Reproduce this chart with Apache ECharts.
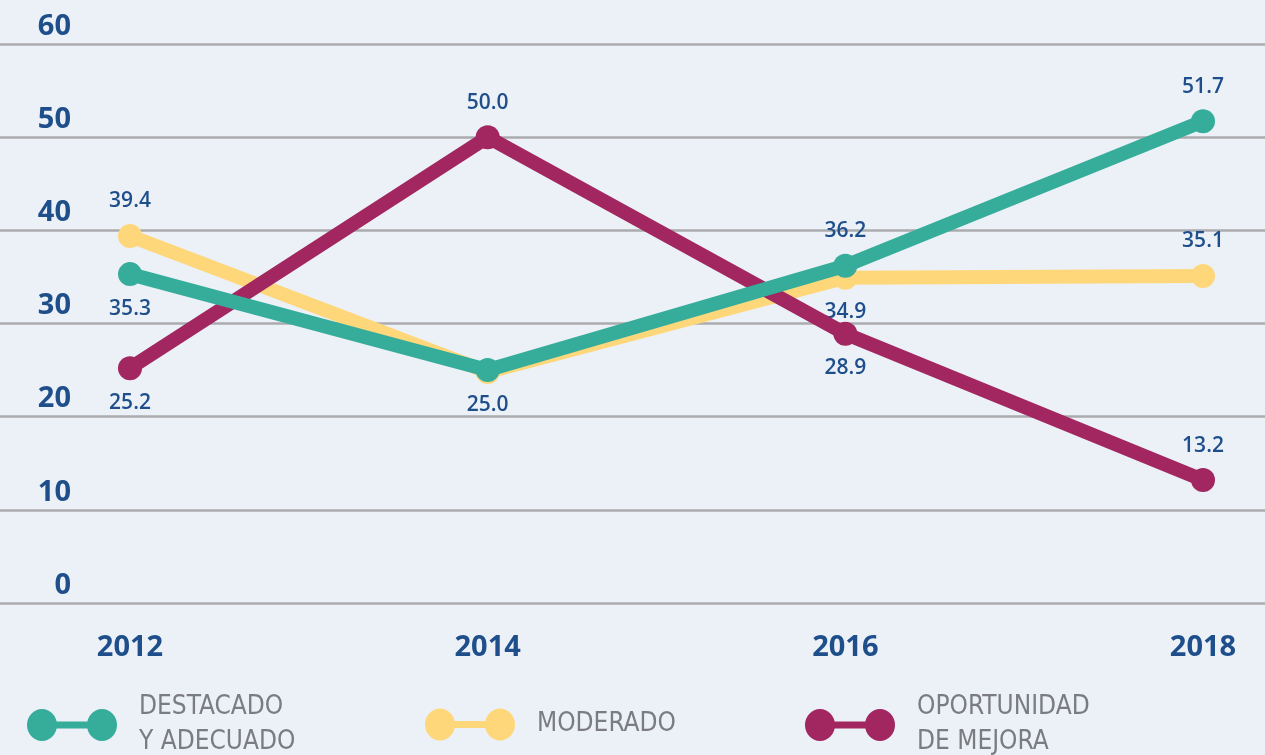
<!DOCTYPE html>
<html>
<head>
<meta charset="utf-8">
<script src="https://cdn.jsdelivr.net/npm/echarts@6/dist/echarts.min.js"></script>
<style>
html,body{margin:0;padding:0;background:#ECF1F8;}
#c{width:1265px;height:755px;}
</style>
</head>
<body>
<div id="c"></div>
<script>
// ---- data ----
var years = ['2012', '2014', '2016', '2018'];
var yTicks = [0, 10, 20, 30, 40, 50, 60];
var destacado = [35.3, 25.0, 36.2, 51.7];
var moderado = [39.4, 24.8, 34.9, 35.1];
var oportunidad = [25.2, 50.0, 28.9, 13.2];
var names = ['DESTACADO\nY ADECUADO', 'MODERADO', 'OPORTUNIDAD\nDE MEJORA'];

// ---- style ----
var colors = ['#35AD9A', '#FFD77B', '#A2265F'];
var labelPos = [
  ['bottom', 'bottom', 'top', 'top'],
  ['top', 'none', 'bottom', 'top'],
  ['bottom', 'top', 'bottom', 'top']
];
var labelBlue = '#1F4F8B';
var numFont = '"Open Sans", "Noto Sans", sans-serif';
var legFont = '"DejaVu Sans Condensed", "DejaVu Sans", sans-serif';

function buildData(vals, pos) {
  return vals.map(function (v, i) {
    var p = pos[i];
    return {
      value: v,
      label: p === 'none' ? { show: false } : { show: true, position: p }
    };
  });
}

var iconPath = 'path://M0,16A15,16 0 1,1 30,16A15,16 0 1,1 0,16Z M60,16A15,16 0 1,1 90,16A15,16 0 1,1 60,16Z M15,12.5L75,12.5L75,19.5L15,19.5Z';

var seriesVals = [destacado, moderado, oportunidad];
var zs = [4, 2, 3];
var series = seriesVals.map(function (vals, k) {
  return {
    name: names[k],
    type: 'line',
    xAxisIndex: 1,
    yAxisIndex: 1,
    z: zs[k],
    data: buildData(vals, labelPos[k]),
    symbol: 'circle',
    symbolSize: 24,
    itemStyle: { color: colors[k] },
    lineStyle: { width: 14, color: colors[k], cap: 'round', join: 'round' },
    label: {
      color: labelBlue,
      fontFamily: numFont,
      fontWeight: 600,
      fontSize: 21,
      distance: 12,
      formatter: function (p) { return p.value.toFixed(1); }
    },
    emphasis: { disabled: true },
    animation: false
  };
});

var legendLeft = [22, 420, 800];
var legendTop = [685, 702, 685];
var legends = names.map(function (n, k) {
  return {
    data: [n],
    left: legendLeft[k],
    top: legendTop[k],
    orient: 'horizontal',
    icon: iconPath,
    itemWidth: 90,
    itemHeight: 32,
    itemGap: 0,
    selectedMode: false,
    textStyle: {
      color: '#7B7C80',
      fontFamily: legFont,
      fontStyle: 'condensed',
      fontWeight: 500,
      fontSize: 26,
      lineHeight: 35,
      padding: [0, 0, 0, 17]
    }
  };
});

var option = {
  backgroundColor: '#ECF1F8',
  animation: false,
  legend: legends,
  grid: [
    { left: 0, right: 0, top: 44, bottom: 152, containLabel: false },
    { left: 130, right: 62, top: 44, bottom: 152, containLabel: false }
  ],
  xAxis: [
    { gridIndex: 0, type: 'value', min: 0, max: 1, show: false },
    {
      gridIndex: 1, type: 'category', data: years, boundaryGap: false,
      axisLine: { show: false }, axisTick: { show: false }, splitLine: { show: false },
      axisLabel: {
        color: labelBlue, fontFamily: numFont, fontWeight: 'bold', fontSize: 29,
        margin: 30
      }
    }
  ],
  yAxis: [
    {
      gridIndex: 0, type: 'value', min: yTicks[0], max: yTicks[yTicks.length - 1], interval: 10,
      axisLine: { show: false }, axisTick: { show: false },
      splitLine: { show: true, lineStyle: { color: '#ABABAF', width: 2.5 } },
      axisLabel: {
        inside: true, margin: 71, align: 'right', verticalAlign: 'bottom',
        color: labelBlue, fontFamily: numFont, fontWeight: 'bold', fontSize: 29,
        padding: [0, 0, 3, 0]
      }
    },
    {
      gridIndex: 1, type: 'value', min: yTicks[0], max: yTicks[yTicks.length - 1], interval: 10,
      show: false
    }
  ],
  series: series
};

var chart = echarts.init(document.getElementById('c'), null, { renderer: 'canvas' });
chart.setOption(option);
</script>
</body>
</html>
